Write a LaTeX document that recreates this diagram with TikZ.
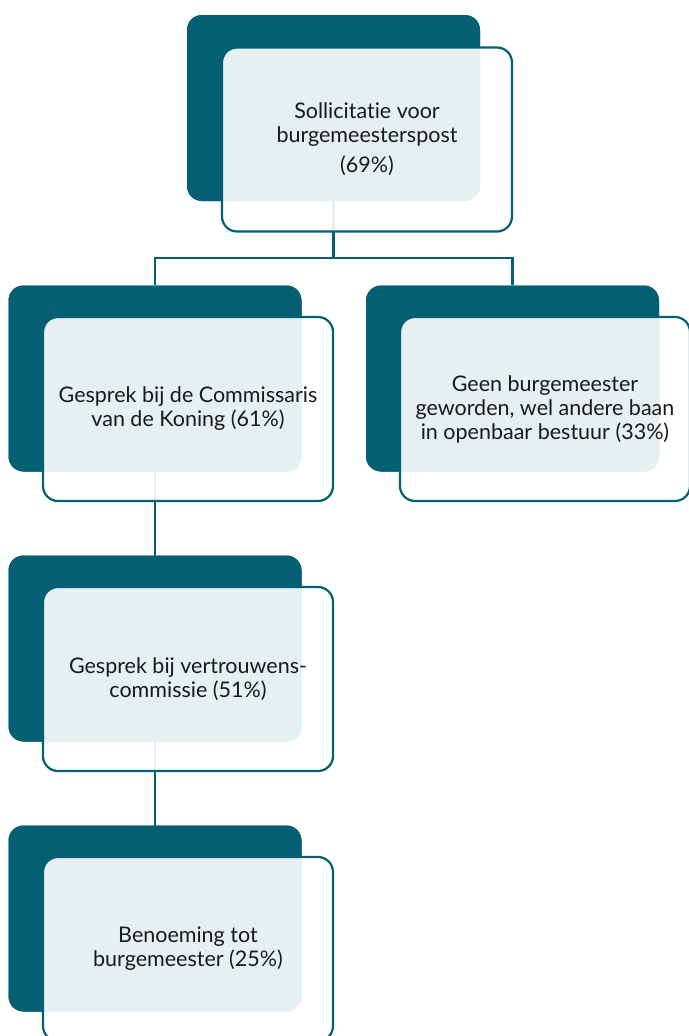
\documentclass[tikz,border=0pt]{standalone}
\usepackage{fontspec}
\setmainfont{Lato}[Ligatures=NoCommon]
\definecolor{teal}{HTML}{045F73}
\definecolor{txt}{HTML}{1A1A1A}
\begin{document}
\begin{tikzpicture}[x=1pt,y=-1pt,
  darkbox/.style={draw=none,fill=teal,rounded corners=15pt,minimum width=293pt,minimum height=186pt,inner sep=0pt},
  lightbox/.style={draw=teal,line width=2.2pt,fill=white,fill opacity=0.9,draw opacity=1,text opacity=1,rounded corners=15pt,minimum width=290pt,minimum height=184pt,inner sep=0pt,align=center,text=txt,font=\fontsize{21.5}{24}\selectfont},
  conn/.style={draw=teal,line width=2.2pt}]
\useasboundingbox (0,0) rectangle (688,1036);
% dark boxes
\node[darkbox] (dA) at (333.5,108) {};
\node[darkbox] (dB) at (155,378.5) {};
\node[darkbox] (dC) at (512.5,378.5) {};
\node[darkbox] (dD) at (155,648.5) {};
\node[darkbox] (dE) at (155,918.5) {};
% connectors
\coordinate (j) at (333.5,258);
\path[conn] (dA.center) -- (j) -| (dB.north);
\path[conn] (j) -| (dC.north);
\path[conn] (dB.center) -- (dD.center);
\path[conn] (dD.center) -- (dE.center);
% redraw dark boxes over connectors
\node[darkbox] at (dA) {};
\node[darkbox] at (dB) {};
\node[darkbox] at (dC) {};
\node[darkbox] at (dD) {};
\node[darkbox] at (dE) {};
% light boxes
\node[lightbox] (A) at (367,139.5) {Sollicitatie voor\\burgemeesterspost\\[6pt](69\%)};
\node[lightbox] (B) at (188,409) {Gesprek bij de Commissaris\\van de Koning (61\%)};
\node[lightbox] (C) at (545,409) {Geen burgemeester\\geworden, wel andere baan\\in openbaar bestuur (33\%)};
\node[lightbox] (D) at (188,679) {Gesprek bij vertrouwens-\\commissie (51\%)};
\node[lightbox] (E) at (188,949) {Benoeming tot\\burgemeester (25\%)};
\end{tikzpicture}
\end{document}
